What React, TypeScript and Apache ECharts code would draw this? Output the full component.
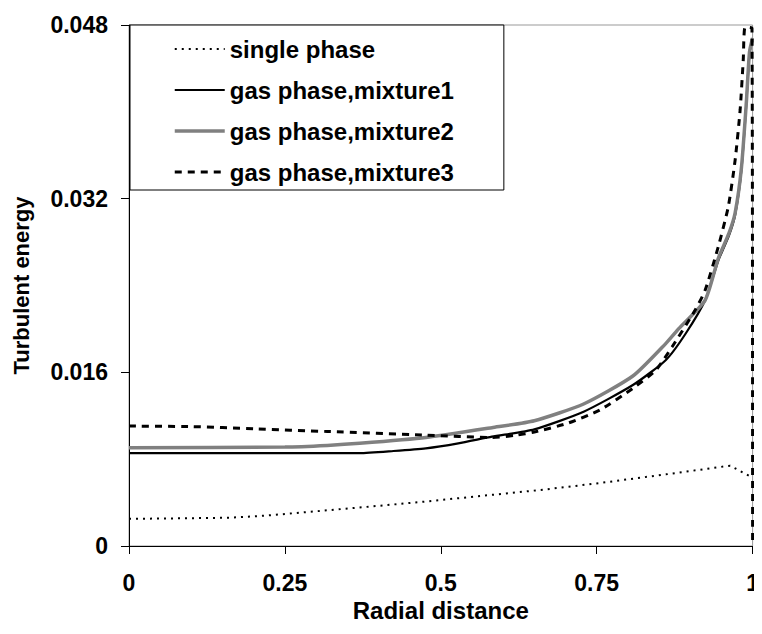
import React, { useEffect, useRef } from "react";
import * as echarts from "echarts";

const xTicks = [0, 0.25, 0.5, 0.75, 1];
const yTicks = [0, 0.016, 0.032, 0.048];
const seriesNames = ["single phase", "gas phase,mixture1", "gas phase,mixture2", "gas phase,mixture3"];

const singlePhase: [number, number][] = [
  [0, 0.0025], [0.16, 0.0026], [0.22, 0.0028], [0.32, 0.0033], [0.4, 0.0037],
  [0.476, 0.0041], [0.58, 0.0047], [0.666, 0.0052], [0.755, 0.0058],
  [0.861, 0.0066], [0.964, 0.0074], [1, 0.0063],
];

const mixture1: [number, number][] = [
  [0, 0.00855], [0.2, 0.00855], [0.37, 0.00855], [0.424, 0.00875], [0.476, 0.009],
  [0.528, 0.00946], [0.582, 0.01007], [0.65, 0.01075], [0.729, 0.01237],
  [0.808, 0.01483], [0.861, 0.01714], [0.893, 0.0196], [0.924, 0.02266],
  [0.945, 0.0263], [0.962, 0.0286], [0.972, 0.0305], [0.982, 0.0346], [0.99, 0.0408],
  [0.995, 0.0454], [1, 0.0466],
];

const mixture2: [number, number][] = [
  [0, 0.00905], [0.25, 0.00912], [0.318, 0.00927], [0.37, 0.00946], [0.476, 0.01],
  [0.582, 0.0109], [0.65, 0.01154], [0.729, 0.01308], [0.808, 0.01566],
  [0.861, 0.01867], [0.882, 0.02005], [0.924, 0.02266], [0.945, 0.0265],
  [0.962, 0.0288], [0.972, 0.0307], [0.982, 0.0348], [0.99, 0.0409], [0.995, 0.0455], [1, 0.0468],
];

const mixture3: [number, number][] = [
  [0, 0.01105], [0.1, 0.011], [0.2, 0.0108], [0.318, 0.01055], [0.476, 0.01022],
  [0.582, 0.01], [0.62, 0.0102], [0.65, 0.0105], [0.703, 0.0113], [0.755, 0.01253],
  [0.808, 0.01453], [0.845, 0.01621], [0.871, 0.01836], [0.908, 0.02174],
  [0.924, 0.02358], [0.945, 0.02758], [0.961, 0.03126], [0.972, 0.03556],
  [0.98, 0.04017], [0.985, 0.04478], [0.988, 0.0478], [0.999, 0.0477], [1, 0],
];

const FONT = "'Liberation Sans', Arial, sans-serif";

const seriesStyles = [
  { color: "#000", width: 2, type: [2, 5] as any, smooth: 0 },
  { color: "#000", width: 2.2, type: "solid" as any, smooth: 0.2 },
  { color: "#808080", width: 3.5, type: "solid" as any, smooth: 0.2 },
  { color: "#000", width: 3, type: [7, 6] as any, smooth: 0.2 },
];
const seriesData = [singlePhase, mixture1, mixture2, mixture3];

export default function App() {
  const ref = useRef<HTMLDivElement>(null);
  useEffect(() => {
    if (!ref.current) return;
    const chart = echarts.init(ref.current, undefined, { renderer: "svg" });
    chart.setOption({
      animation: false,
      backgroundColor: "#fff",
      grid: {
        left: 129, right: 1, top: 25, bottom: 88,
        show: true, borderColor: "#999", borderWidth: 1, backgroundColor: "transparent",
      },
      legend: {
        data: seriesNames.map((name, i) => ({
          name,
          lineStyle: { color: seriesStyles[i].color, width: seriesStyles[i].width, type: seriesStyles[i].type },
        })),
        orient: "vertical",
        left: 130,
        top: 25,
        itemWidth: 50,
        itemHeight: 24,
        itemGap: 17,
        padding: [12, 50, 6, 43],
        backgroundColor: "#fff",
        borderColor: "#000",
        borderWidth: 1,
        itemStyle: { opacity: 0 },
        textStyle: { fontFamily: FONT, fontWeight: "bold", fontSize: 24, color: "#000" },
      },
      xAxis: {
        type: "value",
        min: xTicks[0],
        max: xTicks[xTicks.length - 1],
        interval: 0.25,
        name: "Radial distance",
        nameLocation: "middle",
        nameGap: 49,
        nameTextStyle: { fontFamily: FONT, fontWeight: "bold", fontSize: 24, color: "#000" },
        axisLine: { lineStyle: { color: "#000", width: 1 } },
        axisTick: { length: 8, lineStyle: { color: "#000" } },
        axisLabel: { margin: 25, fontFamily: FONT, fontWeight: "bold", fontSize: 23, color: "#000" },
        splitLine: { show: false },
      },
      yAxis: {
        type: "value",
        min: yTicks[0],
        max: yTicks[yTicks.length - 1],
        interval: 0.016,
        name: "Turbulent energy",
        nameLocation: "middle",
        nameGap: 97,
        nameTextStyle: { fontFamily: FONT, fontWeight: "bold", fontSize: 22, color: "#000" },
        axisLine: { show: true, lineStyle: { color: "#000", width: 1 } },
        axisTick: { show: true, length: 8, lineStyle: { color: "#000" } },
        axisLabel: {
          margin: 21, fontFamily: FONT, fontWeight: "bold", fontSize: 23, color: "#000",
          formatter: (v: number) => (v === 0 ? "0" : v.toFixed(3)),
        },
        splitLine: { show: false },
      },
      series: seriesNames.map((name, i) => ({
        name,
        type: "line",
        data: seriesData[i],
        symbol: "none",
        clip: false,
        smooth: seriesStyles[i].smooth,
        lineStyle: { color: seriesStyles[i].color, width: seriesStyles[i].width, type: seriesStyles[i].type },
      })),
    });
    return () => chart.dispose();
  }, []);
  return <div ref={ref} style={{ width: 762, height: 634, margin: -8 }} />;
}
